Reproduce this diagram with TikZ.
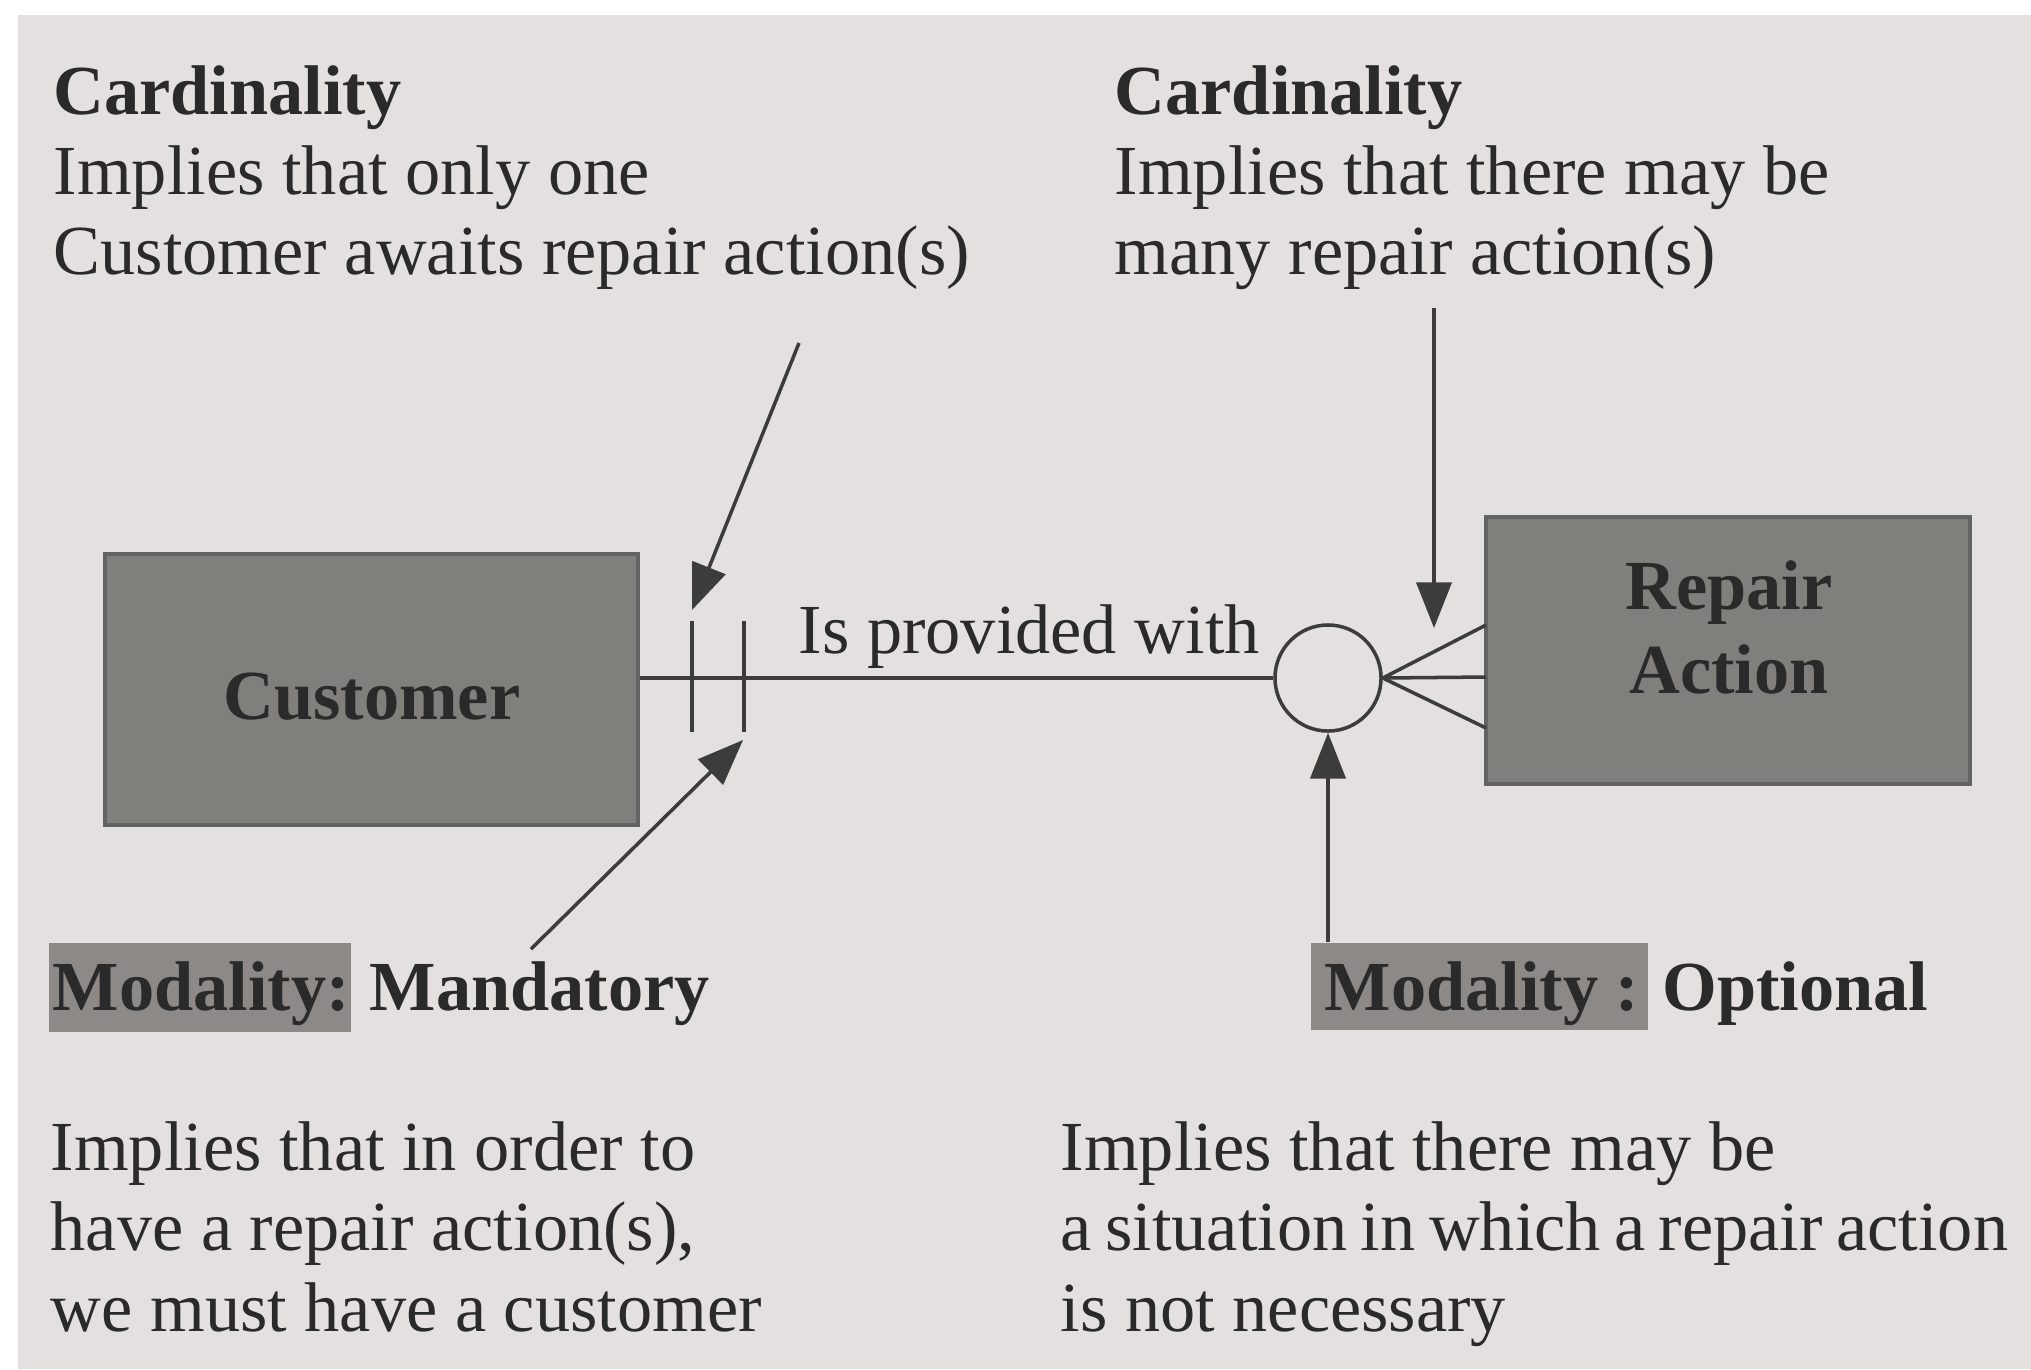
\documentclass[tikz,border=0pt]{standalone}
\usepackage{fontspec}
\setmainfont{Liberation Serif}
\usetikzlibrary{arrows.meta}
\definecolor{bgc}{HTML}{E4E0DF}
\definecolor{boxc}{HTML}{817F7C}
\definecolor{modc}{HTML}{8C8986}
\definecolor{inkc}{HTML}{2A2A2A}
\definecolor{linec}{HTML}{3C3C3C}
\tikzset{
  txt/.style={inner sep=0pt, anchor=base west, text=inkc, font=\fontsize{20}{23}\selectfont},
  btxt/.style={txt, font=\fontsize{20}{23}\selectfont\bfseries},
  lbl/.style={inner sep=0pt, anchor=base, text=inkc, font=\fontsize{20}{23}\selectfont\bfseries},
  entity/.style={draw=linec!80, line width=1.1pt, fill=boxc, rectangle, inner sep=0pt},
  modbox/.style={fill=modc, rectangle, inner sep=0pt},
  conn/.style={draw=linec, line width=1pt},
  arr/.style={conn, -{Triangle[length=13pt,width=10pt]}},
}
\begin{document}
\begin{tikzpicture}[x=0.01cm, y=-0.01cm]
\useasboundingbox (0,0) rectangle (2031,1369);
\fill[white] (0,0) rectangle (2031,1369);
\fill[bgc] (18,15) rectangle (2031,1369);

% top-left text
\node[btxt] (tl1) at (53,114) {Cardinality};
\node[txt]  (tl2) at (53,194) {Implies that only one};
\node[txt]  (tl3) at (53,274) {Customer awaits repair action(s)};
% top-right text
\node[btxt] (tr1) at (1114,114) {Cardinality};
\node[txt]  (tr2) at (1114,194) {Implies that there may be};
\node[txt]  (tr3) at (1114,274) {many repair action(s)};

% entities
\node[entity, minimum width=53.3mm, minimum height=27.1mm] (cust) at (371.5,689.5) {};
\node[lbl] (custlbl) at (372,719) {Customer};
\node[entity, minimum width=48.4mm, minimum height=26.7mm] (rep) at (1728,650.5) {};
\node[lbl] (replbl1) at (1729,609) {Repair};
\node[lbl] (replbl2) at (1729,693) {Action};

% optional circle
\node[circle, draw=linec, line width=1pt, minimum size=10.6mm, inner sep=0pt] (circ) at (1328,678) {};

% relationship line
\draw[conn] (cust.east |- circ.west) -- (circ.west);
\node[txt] (rel) at (798,653) {Is provided with};

% mandatory one bars
\draw[conn] (692,621) -- (692,732);
\draw[conn] (744,621) -- (744,732);

% crow's foot
\coordinate (cf1) at (1486,625);
\coordinate (cf2) at (1486,677);
\coordinate (cf3) at (1486,728);
\draw[conn] (circ.east) -- (cf1);
\draw[conn] (circ.east) -- (cf2);
\draw[conn] (circ.east) -- (cf3);

% modality boxes
\node[modbox, minimum width=30.2mm, minimum height=8.9mm] (modl) at (200,987.5) {};
\node[btxt] (modltx) at (52,1010) {Modality:};
\node[btxt] (mand) at (369,1010) {Mandatory};
\node[modbox, minimum width=33.7mm, minimum height=8.7mm] (modr) at (1479.5,986.5) {};
\node[btxt] (modrtx) at (1324,1010) {Modality :};
\node[btxt] (opt) at (1662,1010) {Optional};

% annotation arrows
\coordinate (a1s) at (799,343);
\coordinate (a1e) at (692,610);
\draw[arr] (a1s) -- (a1e);
\coordinate (a2s) at (531,949);
\coordinate (a2e) at (743,740);
\draw[arr] (a2s) -- (a2e);
\coordinate (a3s) at (1434,308);
\coordinate (a3e) at (1434,628);
\draw[arr] (a3s) -- (a3e);
\draw[arr] (modr.north -| circ.south) -- (circ.south);

% bottom-left text
\node[txt] (bl1) at (50,1170) {Implies that in order to};
\node[txt] (bl2) at (50,1250) {have a repair action(s),};
\node[txt] (bl3) at (50,1331) {we must have a customer};
% bottom-right text
\node[txt] (br1) at (1060,1170) {Implies that there may be};
\node[txt] (br2) at (1060,1250) {\spaceskip=0.19em a situation in which a repair action};
\node[txt] (br3) at (1060,1331) {is not necessary};
\end{tikzpicture}
\end{document}
